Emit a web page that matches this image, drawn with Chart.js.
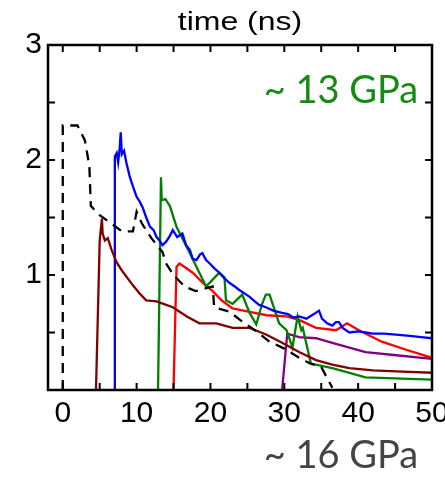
<!DOCTYPE html>
<html>
<head>
<meta charset="utf-8">
<script src="https://cdn.jsdelivr.net/npm/chart.js@4/dist/chart.umd.min.js"></script>
<style>
  html, body { margin: 0; padding: 0; background: #fff; }
</style>
</head>
<body>
<canvas id="chart" width="445" height="477"></canvas>
<script>
// tick values
const xTicks = [0, 10, 20, 30, 40, 50];
const xTickMarks = [0, 5, 10, 15, 20, 25, 30, 35, 40, 45, 50];
const yTicks = [0, 1, 2, 3];
const yTickMarks = [0, 0.5, 1, 1.5, 2, 2.5, 3];

// series (x = time in ns)
const dashX = [0, 0, 2, 3, 3.6, 3.8, 5, 6.5, 8, 9.5, 10, 10.7, 12, 13.5, 14, 15, 16.5, 18, 20.3, 20.5, 22.6, 24, 26, 28, 30, 32, 33.5, 35, 36.5];
const dashY = [0, 2.3, 2.3, 2.17, 1.95, 1.6, 1.52, 1.45, 1.38, 1.38, 1.55, 1.45, 1.32, 1.2, 1.1, 1.0, 0.9, 0.86, 0.9, 0.72, 0.68, 0.61, 0.52, 0.42, 0.36, 0.28, 0.23, 0.2, 0.02];

const maroonX = [4.5, 5.0, 5.3, 5.4, 5.7, 6.1, 6.6, 7.3, 8.1, 9.5, 10.4, 11.3, 12.7, 14, 14.9, 16.8, 18.5, 20.8, 23, 25.3, 27.6, 29.7, 32, 34.3, 36.5, 38.8, 42, 46, 50];
const maroonY = [0, 1.3, 1.49, 1.36, 1.3, 1.32, 1.22, 1.11, 1.03, 0.91, 0.84, 0.78, 0.77, 0.74, 0.72, 0.64, 0.58, 0.58, 0.54, 0.54, 0.48, 0.41, 0.33, 0.26, 0.22, 0.19, 0.17, 0.16, 0.15];

const blueX = [7.0, 7.05, 7.3, 7.5, 7.7, 7.85, 8.0, 8.3, 8.6, 9.05, 9.5, 10.0, 10.4, 10.8, 11.3, 11.8, 12.3, 12.7, 13.1, 13.5, 14.0, 14.5, 14.9, 15.5, 16.2, 16.7, 17.2, 17.6, 18.1, 18.6, 18.9, 19.4, 19.9, 20.5, 21.2, 21.9, 22.6, 23.3, 23.9, 24.6, 25.3, 26.0, 26.6, 27.5, 28.5, 29.7, 30.5, 31.2, 32, 33, 34, 34.7, 35.1, 35.8, 36.5, 37, 37.4, 37.9, 38.8, 40, 41, 42, 43.5, 45.5, 47, 48.5, 50];
const blueY = [0, 2.03, 2.06, 1.98, 2.1, 2.24, 2.05, 2.08, 1.98, 1.86, 1.77, 1.68, 1.64, 1.59, 1.5, 1.42, 1.39, 1.33, 1.3, 1.26, 1.29, 1.34, 1.39, 1.33, 1.36, 1.26, 1.22, 1.14, 1.13, 1.18, 1.19, 1.13, 1.1, 1.06, 1.02, 0.97, 0.93, 0.9, 0.87, 0.84, 0.81, 0.77, 0.74, 0.72, 0.69, 0.67, 0.66, 0.63, 0.64, 0.62, 0.66, 0.69, 0.62, 0.58, 0.56, 0.59, 0.59, 0.54, 0.5, 0.51, 0.5, 0.49, 0.49, 0.48, 0.47, 0.46, 0.45];

const greenX = [12.9, 13.3, 13.4, 13.9, 14.5, 15.4, 16.1, 17.2, 18.5, 19.4, 20.3, 21.2, 21.9, 22.1, 23, 24.3, 25.3, 26.2, 27, 27.5, 28, 29.3, 30.3, 31.1, 31.8, 32.3, 32.5, 33.6, 36.5, 41, 50];
const greenY = [0, 1.85, 1.65, 1.66, 1.6, 1.42, 1.33, 1.19, 1.02, 0.9, 0.96, 1.02, 0.98, 0.78, 0.75, 0.83, 0.67, 0.57, 0.75, 0.83, 0.83, 0.58, 0.52, 0.37, 0.64, 0.52, 0.54, 0.23, 0.19, 0.11, 0.09];

const redX = [15.0, 15.4, 15.8, 16.5, 17.6, 19, 20.3, 21.5, 23, 25.3, 27.6, 30.3, 32, 34.3, 37, 38.5, 40.1, 43.2, 46.5, 50];
const redY = [0, 1.07, 1.1, 1.07, 1.02, 0.93, 0.86, 0.78, 0.71, 0.68, 0.65, 0.64, 0.61, 0.54, 0.52, 0.58, 0.52, 0.42, 0.35, 0.28];

const purpleX = [29.7, 30.4, 32, 34.3, 36.5, 41, 45.5, 50];
const purpleY = [0, 0.49, 0.46, 0.45, 0.41, 0.33, 0.3, 0.27];

const pts = (xs, ys) => xs.map((x, i) => ({ x: x, y: ys[i] }));
const line = (xs, ys, color, dash) => ({
  data: pts(xs, ys),
  borderColor: color,
  borderWidth: 2.3,
  borderDash: dash || [],
  showLine: true,
  pointRadius: 0,
  tension: 0
});

const tickFont = { family: 'Liberation Sans, Arial, sans-serif', size: 30 };

// frame, inward ticks, the title and the two pressure notes
const decor = {
  id: 'decor',
  afterDraw(chart) {
    const { ctx, chartArea: a, scales } = chart;
    const x = scales.x, y = scales.y;
    ctx.save();
    ctx.strokeStyle = '#000';
    ctx.lineWidth = 2;
    for (const v of xTickMarks) {
      const p = x.getPixelForValue(v);
      ctx.beginPath();
      ctx.moveTo(p, a.bottom); ctx.lineTo(p, a.bottom - 7);
      ctx.moveTo(p, a.top); ctx.lineTo(p, a.top + 7);
      ctx.stroke();
    }
    for (const v of yTickMarks) {
      const p = y.getPixelForValue(v);
      ctx.beginPath();
      ctx.moveTo(a.left, p); ctx.lineTo(a.left + 7, p);
      ctx.moveTo(a.right, p); ctx.lineTo(a.right - 7, p);
      ctx.stroke();
    }
    ctx.lineWidth = 2.5;
    ctx.strokeRect(a.left, a.top, a.right - a.left, a.bottom - a.top);

    // title is a bit wide in the original, so stretch it
    ctx.save();
    ctx.translate((a.left + a.right) / 2, 23);
    ctx.scale(1.28, 1);
    ctx.font = '25px "Liberation Sans", Arial, sans-serif';
    ctx.fillStyle = '#000';
    ctx.textAlign = 'center';
    ctx.textBaseline = 'middle';
    ctx.fillText('time (ns)', 0, 0);
    ctx.restore();

    ctx.font = '38px Lato, "Open Sans", sans-serif';
    ctx.textAlign = 'center';
    ctx.textBaseline = 'middle';
    ctx.fillStyle = '#158a15';
    ctx.fillText('~ 13 GPa', 341, 91);
    ctx.fillStyle = '#444444';
    ctx.fillText('~ 16 GPa', 341, 456);
    ctx.restore();
  }
};

new Chart(document.getElementById('chart'), {
  type: 'scatter',
  data: {
    datasets: [
      line(dashX, dashY, '#000000', [10, 7]),
      line(maroonX, maroonY, '#800000'),
      line(blueX, blueY, '#0000ff'),
      line(greenX, greenY, '#008000'),
      line(redX, redY, '#ff0000'),
      line(purpleX, purpleY, '#800080')
    ]
  },
  options: {
    responsive: false,
    animation: false,
    layout: { padding: { right: 13, left: 0, top: 45, bottom: 0 } },
    plugins: { legend: { display: false }, tooltip: { enabled: false } },
    scales: {
      x: {
        type: 'linear', position: 'bottom', min: -2, max: 50,
        afterBuildTicks: s => { s.ticks = xTicks.map(v => ({ value: v })); },
        ticks: { color: '#000', font: tickFont, padding: 6, maxRotation: 0, autoSkip: false },
        grid: { display: false, drawTicks: false },
        border: { display: false },
        afterFit: s => { s.height = 87; s.paddingLeft = 0; s.paddingRight = 0; }
      },
      y: {
        type: 'linear', min: 0, max: 3,
        afterBuildTicks: s => { s.ticks = yTicks.map(v => ({ value: v })); },
        ticks: { color: '#000', font: tickFont, padding: 6, callback: v => (v === 0 ? '' : v) },
        grid: { display: false, drawTicks: false },
        border: { display: false },
        afterFit: s => { s.width = 48; s.paddingTop = 0; s.paddingBottom = 0; }
      }
    }
  },
  plugins: [decor]
});
</script>
</body>
</html>
